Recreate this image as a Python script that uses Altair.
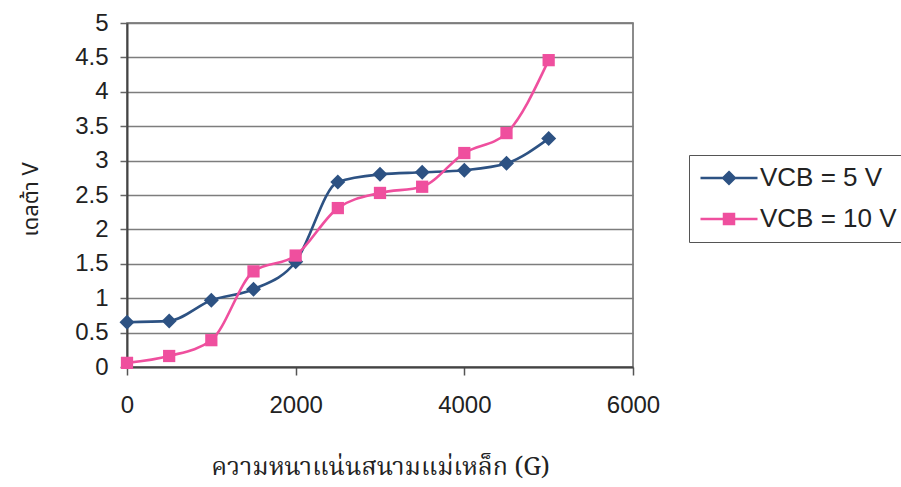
import altair as alt
import pandas as pd

# Magnetic flux density (G) and measured delta-V for two collector-base voltages
field_g = [0, 500, 1000, 1500, 2000, 2500, 3000, 3500, 4000, 4500, 5000]
delta_v_5 = [0.65, 0.67, 0.97, 1.13, 1.53, 2.69, 2.80, 2.83, 2.86, 2.96, 3.32]
delta_v_10 = [0.06, 0.16, 0.39, 1.39, 1.62, 2.31, 2.53, 2.62, 3.11, 3.40, 4.46]

series_names = ["VCB = 5 V", "VCB = 10 V"]
series_colors = ["#2D5283", "#EF4F9E"]
series_markers = ["diamond", "square"]
marker_sizes = [225, 150]
x_ticks = [0, 2000, 4000, 6000]
y_ticks = [0, 0.5, 1, 1.5, 2, 2.5, 3, 3.5, 4, 4.5, 5]

rows = []
for name, values in zip(series_names, [delta_v_5, delta_v_10]):
    for g, v in zip(field_g, values):
        rows.append({"field": g, "dv": v, "series": name})
df = pd.DataFrame(rows)

LATIN = "Liberation Sans, Arial, sans-serif"
THAI_SANS = "Noto Sans Thai, Loma, Garuda, Tlwg Typo, sans-serif"
THAI_SERIF = "Noto Serif Thai, Norasi, Kinnari, Noto Sans Thai, serif"

color_scale = alt.Scale(domain=series_names, range=series_colors)

x_enc = alt.X(
    "field:Q",
    scale=alt.Scale(domain=[0, 6000], nice=False),
    axis=alt.Axis(
        values=x_ticks,
        format="d",
        grid=False,
        tickSize=8,
        tickColor="#555",
        tickWidth=1.5,
        domainColor="#444",
        domainWidth=2,
        labelFont=LATIN,
        labelFontSize=24,
        labelColor="#222",
        labelPadding=18,
        labelFlush=False,
        title="ความหนาแน่นสนามแม่เหล็ก (G)",
        titleFont=THAI_SERIF,
        titleFontSize=25,
        titleFontWeight="normal",
        titleColor="#222",
        titleY=99,
        titleBaseline="middle",
    ),
)
y_enc = alt.Y(
    "dv:Q",
    scale=alt.Scale(domain=[0, 5], nice=False),
    axis=alt.Axis(
        values=y_ticks,
        format="~g",
        grid=True,
        gridColor="#7d7d7d",
        gridWidth=1.5,
        tickSize=7,
        tickColor="#666",
        tickWidth=1.5,
        domainColor="#444",
        domainWidth=2,
        labelFont=LATIN,
        labelFontSize=24,
        labelColor="#222",
        labelPadding=12,
        title="เดลต้า V",
        titleFont=THAI_SANS,
        titleFontSize=22,
        titleFontWeight="normal",
        titleColor="#222",
        titleX=-97,
        titleY=176,
        titleBaseline="middle",
    ),
)

# Smoothed line plus markers, one pair of layers per series
series_layers = []
for name, colour, marker, size in zip(series_names, series_colors, series_markers, marker_sizes):
    base = alt.Chart(df).transform_filter(alt.datum.series == name)
    series_layers.append(
        base.mark_line(interpolate="monotone", strokeWidth=2.6, color=colour).encode(x=x_enc, y=y_enc)
    )
    series_layers.append(
        base.mark_point(filled=True, opacity=1, shape=marker, size=size, color=colour).encode(x=x_enc, y=y_enc)
    )

# Legend entries: a line segment through the series marker
legend_paths = [
    "M-2.85,0H2.85M0,-0.58L0.58,0L0,0.58L-0.58,0Z",
    "M-2.85,0H2.85M-0.5,-0.5H0.5V0.5H-0.5Z",
]
legend_def = alt.Legend(
    title=None,
    orient="none",
    legendX=562,
    legendY=132,
    padding=10,
    rowPadding=15,
    strokeColor="#555",
    fillColor="white",
    labelFont=LATIN,
    labelFontSize=26,
    labelColor="#222",
    symbolSize=400,
    symbolStrokeWidth=2.5,
    symbolOpacity=1,
    symbolOffset=17,
    labelOffset=18,
)
legend_layer = alt.Chart(df).mark_point(filled=True, opacity=0, strokeWidth=2.5).encode(
    x=x_enc,
    y=y_enc,
    color=alt.Color("series:N", scale=color_scale, legend=legend_def),
    stroke=alt.Stroke("series:N", scale=color_scale, legend=legend_def),
    shape=alt.Shape(
        "series:N",
        scale=alt.Scale(domain=series_names, range=legend_paths),
        legend=legend_def,
    ),
)

chart = (
    alt.layer(*series_layers, legend_layer)
    .properties(
        width=506,
        height=344,
        autosize=alt.AutoSizeParams(type="none"),
        padding={"left": 127, "top": 23, "right": 268, "bottom": 120},
        background="white",
    )
    .configure_view(stroke="#666", strokeWidth=1.5)
)

chart.save("out.html", embed_options={"renderer": "svg", "actions": False})
